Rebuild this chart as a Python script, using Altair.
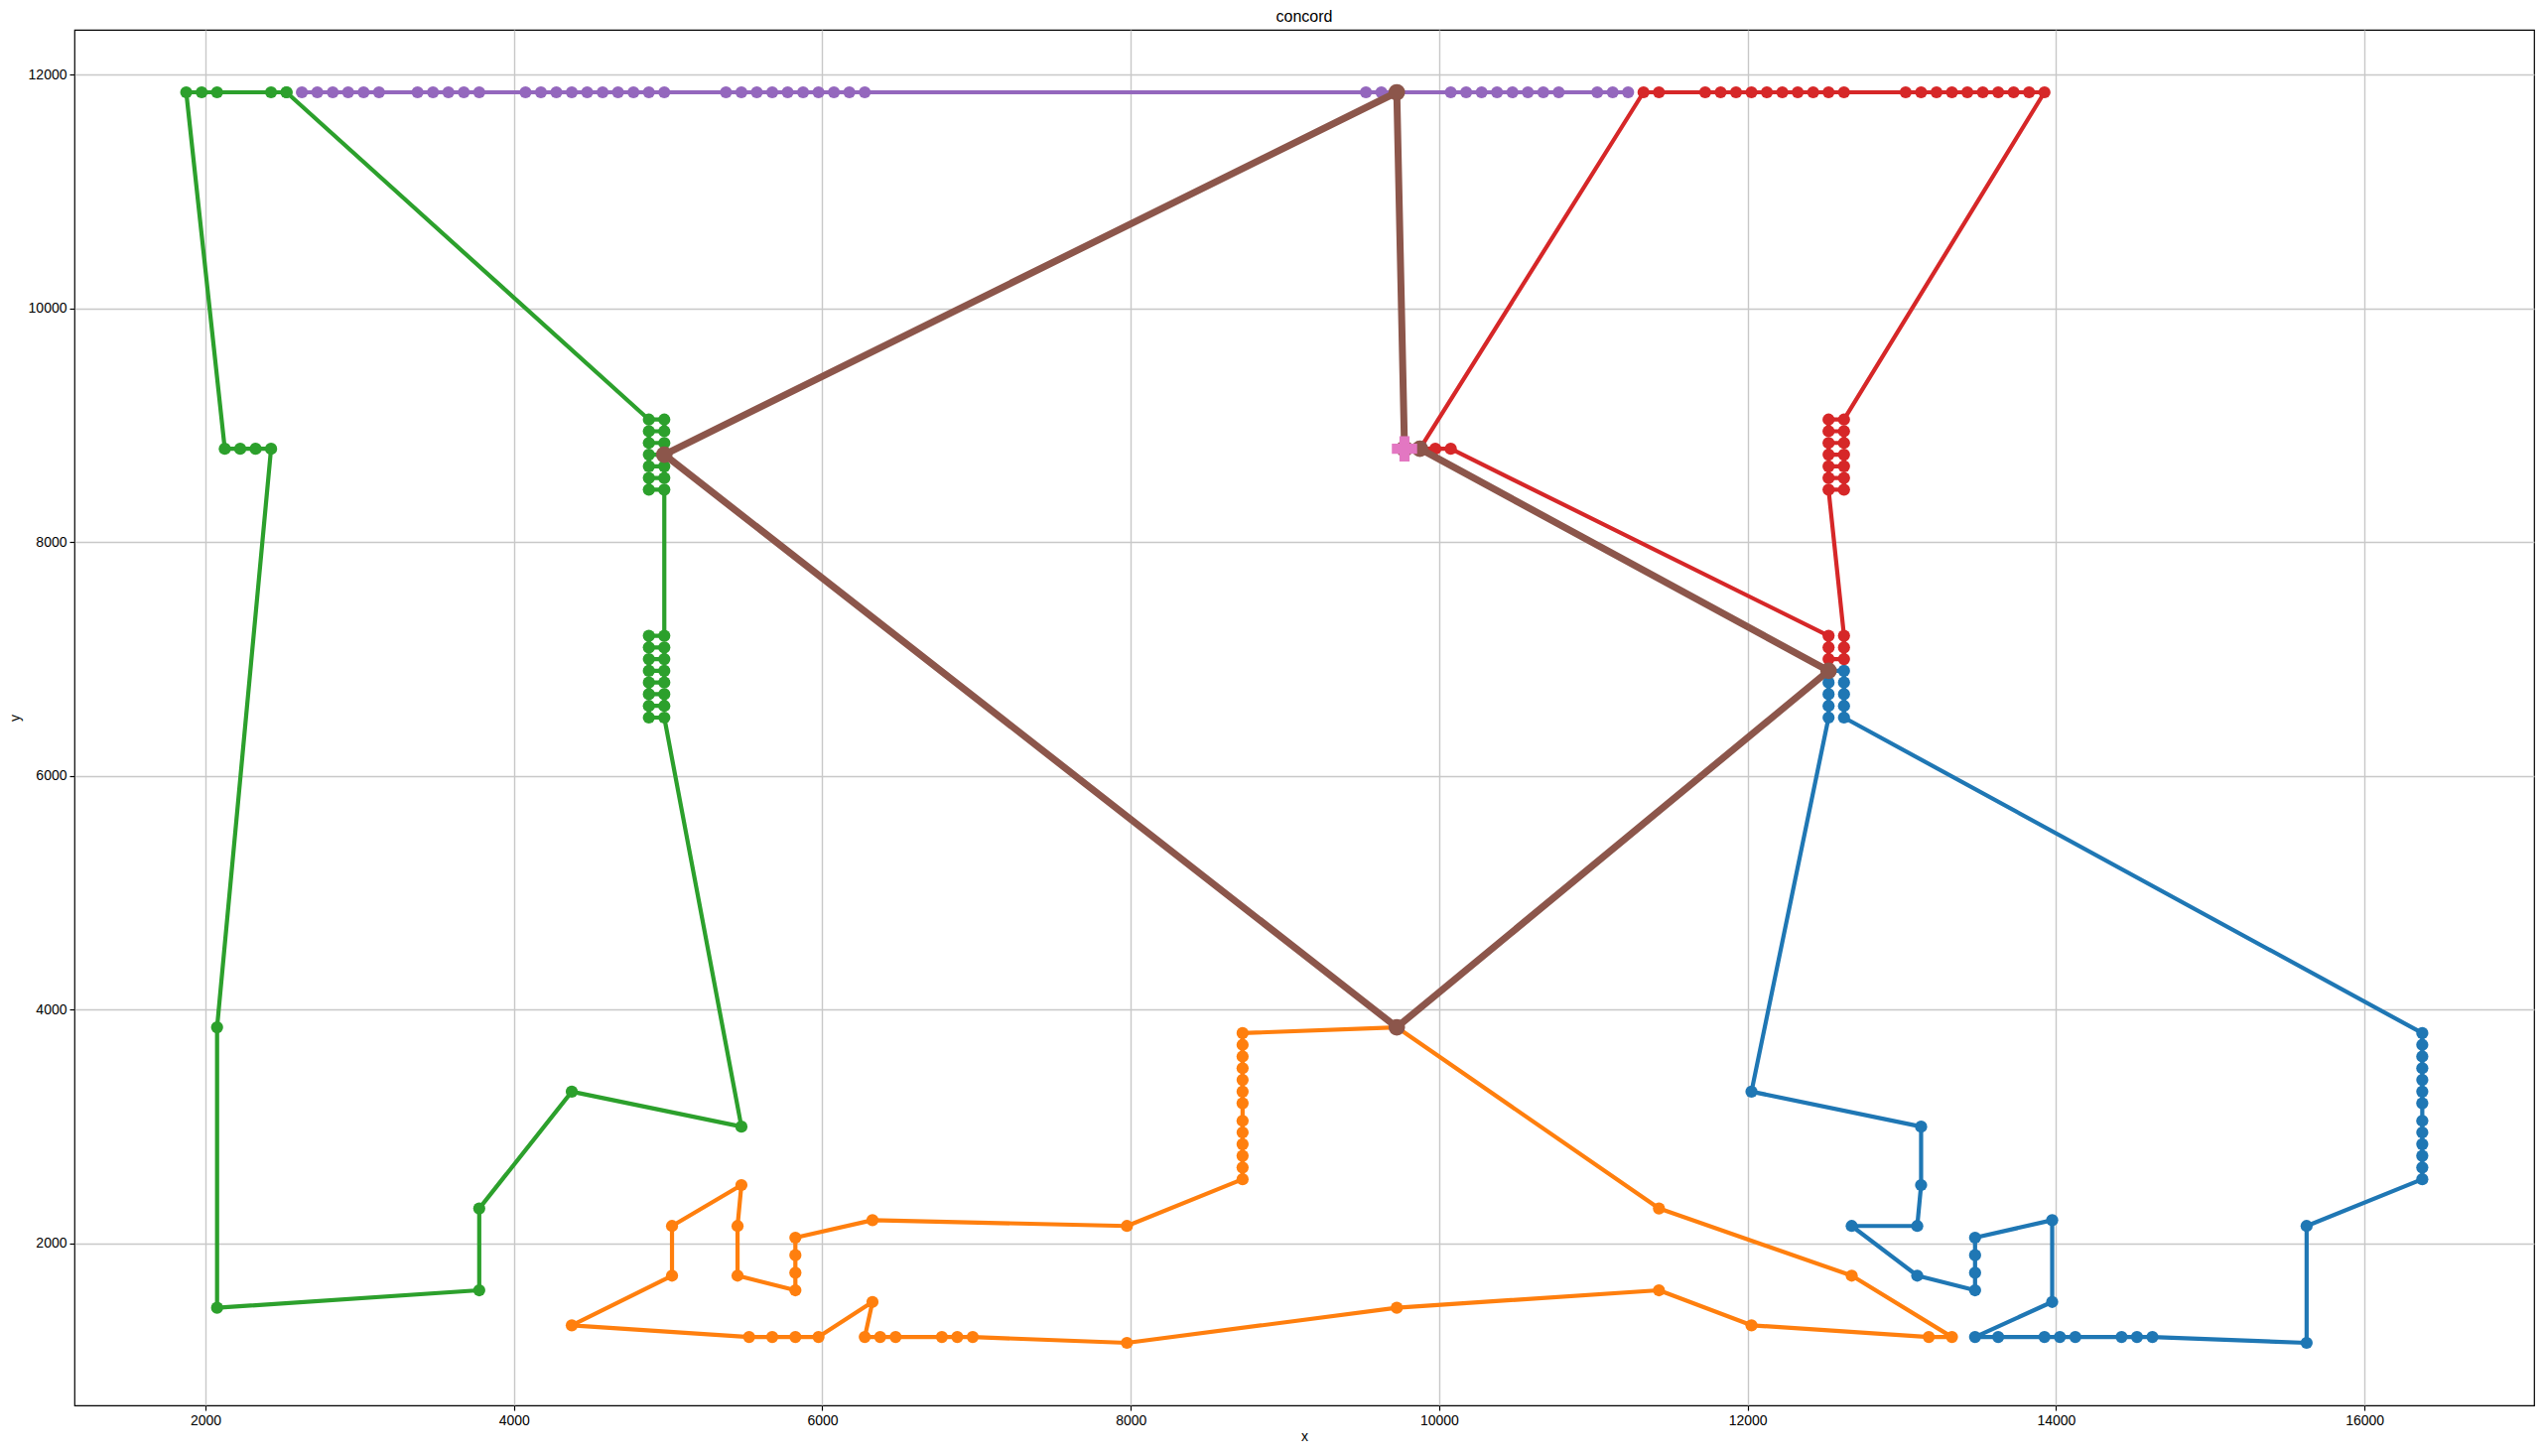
import altair as alt
import pandas as pd

# ---- data (route order = drawing order) ----
BLUE_X = [12525, 12525, 12525, 12525, 12525, 12025, 13125, 13125, 13100, 12675, 13100, 13475, 13475, 13475, 13475,
          13975, 13975, 13475, 13625, 13925, 14025, 14125, 14425, 14525, 14625, 15625, 15625,
          16375, 16375, 16375, 16375, 16375, 16375, 16375, 16375, 16375, 16375, 16375, 16375, 16375,
          12625, 12625, 12625, 12625, 12625, 12525]
BLUE_Y = [6900, 6800, 6700, 6600, 6500, 3300, 3000, 2500, 2150, 2150, 1725, 1600, 1750, 1900, 2050,
          2200, 1500, 1200, 1200, 1200, 1200, 1200, 1200, 1200, 1200, 1150, 2150,
          2550, 2650, 2750, 2850, 2950, 3050, 3200, 3300, 3400, 3500, 3600, 3700, 3800,
          6500, 6600, 6700, 6800, 6900, 6900]

ORANGE_X = [9725, 8725, 8725, 8725, 8725, 8725, 8725, 8725, 8725, 8725, 8725, 8725, 8725, 8725,
            7975, 6325, 5825, 5825, 5825, 5825, 5450, 5450, 5475, 5025, 5025, 4375,
            5525, 5675, 5825, 5975, 6325, 6275, 6375, 6475, 6775, 6875, 6975, 7975,
            9725, 11425, 12025, 13175, 13325, 12675, 11425, 9725]
ORANGE_Y = [3850, 3800, 3700, 3600, 3500, 3400, 3300, 3200, 3050, 2950, 2850, 2750, 2650, 2550,
            2150, 2200, 2050, 1900, 1750, 1600, 1725, 2150, 2500, 2150, 1725, 1300,
            1200, 1200, 1200, 1200, 1500, 1200, 1200, 1200, 1200, 1200, 1200, 1150,
            1450, 1600, 1300, 1200, 1200, 1725, 2300, 3850]

GREEN_X = [2525, 2425, 2075, 1975, 1875, 2125, 2225, 2325, 2425, 2075, 2075, 3775, 3775, 4375, 5475,
           4975, 4875, 4875, 4975, 4975, 4875, 4875, 4975, 4975, 4875, 4875, 4975, 4975, 4875, 4875, 4975,
           4975, 4875, 4875, 4975, 4975, 4875, 4875, 4975, 4975, 4875, 4875, 4975, 4975, 4875,
           2525]
GREEN_Y = [11850, 11850, 11850, 11850, 11850, 8800, 8800, 8800, 8800, 3850, 1450, 1600, 2300, 3300, 3000,
           6500, 6500, 6600, 6600, 6700, 6700, 6800, 6800, 6900, 6900, 7000, 7000, 7100, 7100, 7200, 7200,
           8450, 8450, 8550, 8550, 8650, 8650, 8750, 8750, 8850, 8850, 8950, 8950, 9050, 9050,
           11850]

RED_X = [9875, 11325, 11425,
         11725, 11825, 11925, 12025, 12125, 12225, 12325, 12425, 12525, 12625,
         13025, 13125, 13225, 13325, 13425, 13525, 13625, 13725, 13825, 13925,
         12625, 12525, 12525, 12625, 12625, 12525, 12525, 12625, 12625, 12525, 12525, 12625, 12625, 12525,
         12625, 12625, 12625, 12525, 12525, 12525, 10075, 9975, 9875]
RED_Y = [8800, 11850, 11850,
         11850, 11850, 11850, 11850, 11850, 11850, 11850, 11850, 11850, 11850,
         11850, 11850, 11850, 11850, 11850, 11850, 11850, 11850, 11850, 11850,
         9050, 9050, 8950, 8950, 8850, 8850, 8750, 8750, 8650, 8650, 8550, 8550, 8450, 8450,
         7200, 7100, 7000, 7000, 7100, 7200, 8800, 8800, 8800]

PURPLE_X = [9725, 9625, 9525,
            6275, 6175, 6075, 5975, 5875, 5775, 5675, 5575, 5475, 5375,
            4975, 4875, 4775, 4675, 4575, 4475, 4375, 4275, 4175, 4075,
            3775, 3675, 3575, 3475, 3375,
            3125, 3025, 2925, 2825, 2725, 2625,
            11225, 11125, 11025,
            10775, 10675, 10575, 10475, 10375, 10275, 10175, 10075, 9725]
PURPLE_Y = [11850] * len(PURPLE_X)

BROWN_X = [9775, 9875, 12525, 9725, 4975, 9725, 9775]
BROWN_Y = [8800, 8800, 6900, 3850, 8750, 11850, 8800]

DEPOT_X = [9775]
DEPOT_Y = [8800]

ROUTES = [
    ("blue", "#1f77b4", BLUE_X, BLUE_Y),
    ("orange", "#ff7f0e", ORANGE_X, ORANGE_Y),
    ("green", "#2ca02c", GREEN_X, GREEN_Y),
    ("red", "#d62728", RED_X, RED_Y),
    ("purple", "#9467bd", PURPLE_X, PURPLE_Y),
    ("brown", "#8c564b", BROWN_X, BROWN_Y),
]

X_TICKS = [2000, 4000, 6000, 8000, 10000, 12000, 14000, 16000]
Y_TICKS = [2000, 4000, 6000, 8000, 10000, 12000]

FONT = "Liberation Sans"

x_enc = alt.X("x:Q", scale=alt.Scale(domain=[1150, 17100], nice=False, zero=False),
              axis=alt.Axis(values=X_TICKS, format="d", title="x"))
y_enc = alt.Y("y:Q", scale=alt.Scale(domain=[615, 12385], nice=False, zero=False),
              axis=alt.Axis(values=Y_TICKS, format="d", title="y"))

layers = []
for name, color, xs, ys in ROUTES:
    df = pd.DataFrame({"x": xs, "y": ys, "seq": list(range(len(xs)))})
    big = name == "brown"
    line = alt.Chart(df).mark_line(color=color, strokeWidth=7 if big else 4.2,
                                   strokeJoin="round").encode(x=x_enc, y=y_enc, order="seq:Q")
    pts = alt.Chart(df).mark_circle(color=color, size=280 if big else 150,
                                    opacity=1).encode(x=x_enc, y=y_enc)
    layers += [line, pts]

depot = pd.DataFrame({"x": DEPOT_X, "y": DEPOT_Y})
layers.append(alt.Chart(depot).mark_point(shape="cross", filled=True, color="#e377c2",
                                          size=650, opacity=1).encode(x=x_enc, y=y_enc))

chart = alt.layer(*layers).properties(
    width=2478, height=1386,
    title=alt.TitleParams("concord", fontSize=16, font=FONT, fontWeight="normal",
                          color="black", offset=5),
    autosize=alt.AutoSizeParams(type="none"),
    padding={"left": 75, "top": 30, "right": 11, "bottom": 51},
).configure_view(
    stroke="black", strokeWidth=1.2
).configure_axis(
    grid=True, gridColor="#c8c8c8", gridWidth=1.4,
    domain=False, tickColor="black", tickSize=5, tickWidth=1.2,
    labelFont=FONT, labelFontSize=14, labelColor="black", labelPadding=3,
    titleFont=FONT, titleFontSize=14, titleFontWeight="normal", titleColor="black",
).configure_axisX(titlePadding=2).configure_axisY(titlePadding=6)

chart.save("out.html", embed_options={"renderer": "svg", "actions": False})
